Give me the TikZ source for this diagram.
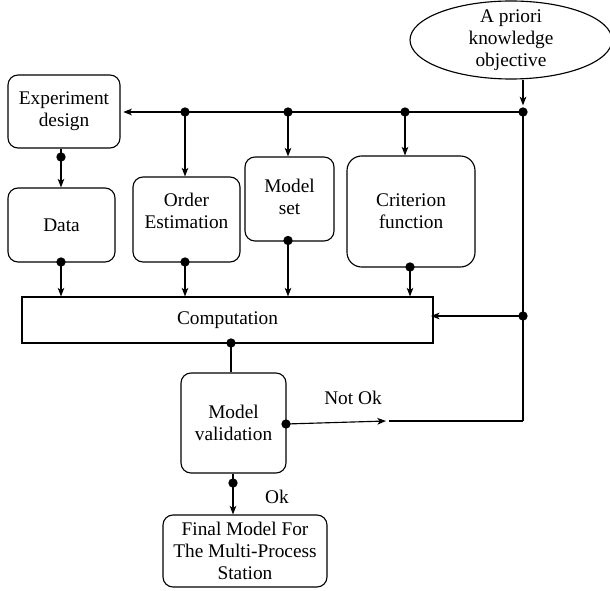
\documentclass[tikz,border=0pt]{standalone}
\usepackage{fontspec}
\setmainfont{Liberation Serif}
\usetikzlibrary{arrows.meta,shapes.geometric}
\tikzset{
  px/.style={x=0.75pt,y=-0.75pt},
  sz/.style 2 args={minimum width=#1*0.75pt,minimum height=#2*0.75pt},
  box/.style={draw,line width=0.85pt,rounded corners=7.5pt,inner sep=0pt,align=center},
  sharpbox/.style={draw,line width=0.85pt,inner sep=0pt,align=center},
  txt/.style={align=center,inner sep=0pt,font=\fontsize{14.5}{16.5}\selectfont},
  ln/.style={line width=0.85pt},
  arr/.style={line width=0.85pt,-{Stealth[length=6.5pt,width=5pt,inset=1.8pt]}},
  dot/.style={circle,fill=black,inner sep=0pt,minimum size=7pt}
}
\begin{document}
\begin{tikzpicture}[px,font=\fontsize{14.5}{16.5}\selectfont]
\useasboundingbox (0,0) rectangle (610,591);
% nodes
\node[draw,ellipse,line width=0.85pt,sz={202}{78}] (apr) at (511,40) {};
\node[txt] (aprt) at (511,40) {A priori\\knowledge\\objective};
\node[box,sz={112}{73}] (exp) at (64,111.5) {Experiment\\design};
\node[box,sz={107}{74}] (data) at (61.5,225) {Data};
\node[box,sz={107}{85}] (order) at (186.5,219.5) {};
\node[txt] (ordert) at (186.5,211) {Order\\Estimation};
\node[box,sz={89}{84}] (mset) at (289.5,199) {};
\node[txt] (msett) at (289.5,197) {Model\\set};
\node[box,rounded corners=11pt,sz={128}{111}] (crit) at (411,211.5) {Criterion\\function};
\node[sharpbox,sz={411}{46}] (comp) at (227.5,320) {Computation};
\node[box,sz={105}{100}] (mv) at (233.5,423) {Model\\validation};
\node[box,sz={164}{72}] (final) at (245,551) {Final Model For\\The Multi-Process\\Station};
\node[txt] (notok) at (353,398) {Not Ok};
\node[txt] (ok) at (277,497) {Ok};
% coordinates
\coordinate (j1) at (523,112);
\coordinate (j2) at (185,112);
\coordinate (j3) at (288,112);
\coordinate (j4) at (405,112);
\coordinate (j5) at (523,316);
\coordinate (j6) at (523,421);
\coordinate (ed) at (61,157);
\coordinate (dd) at (61,262);
\coordinate (od) at (185,262);
\coordinate (md) at (288,240.5);
\coordinate (cd) at (410,267);
\coordinate (cbd) at (231,343);
\coordinate (mvd) at (286,424);
\coordinate (nv1) at (386,421);
\coordinate (nv2) at (389,421);
\coordinate (okd) at (233,483);
% connectors
\draw[arr,shorten >=5pt] (apr.south -| j1) -- (j1);
\draw[arr,shorten >=2pt] (j1) -- (exp.east |- j1);
\draw[arr] (j2) -- (j2 |- order.north);
\draw[arr] (j3) -- (j3 |- mset.north);
\draw[arr] (j4) -- (j4 |- crit.north);
\draw[ln] (j1) -- (j6);
\draw[arr,shorten >=-2pt] (j5) -- (comp.east |- j5);
\draw[ln] (nv2) -- (j6);
\draw[arr] (exp.south -| ed) -- (ed |- data.north);
\draw[arr] (dd) -- (dd |- comp.north);
\draw[arr] (od) -- (od |- comp.north);
\draw[arr] (md) -- (md |- comp.north);
\draw[arr] (cd) -- (cd |- comp.north);
\draw[ln] (cbd) -- (cbd |- mv.north);
\draw[arr] (mvd) -- (nv1);
\draw[ln] (mv.south -| okd) -- (okd);
\draw[arr] (okd) -- (okd |- final.north);
% dots
\foreach \p in {j1,j2,j3,j4,j5,ed,dd,od,md,cd,cbd,mvd,okd}
  \node[dot] at (\p) {};
\end{tikzpicture}
\end{document}
